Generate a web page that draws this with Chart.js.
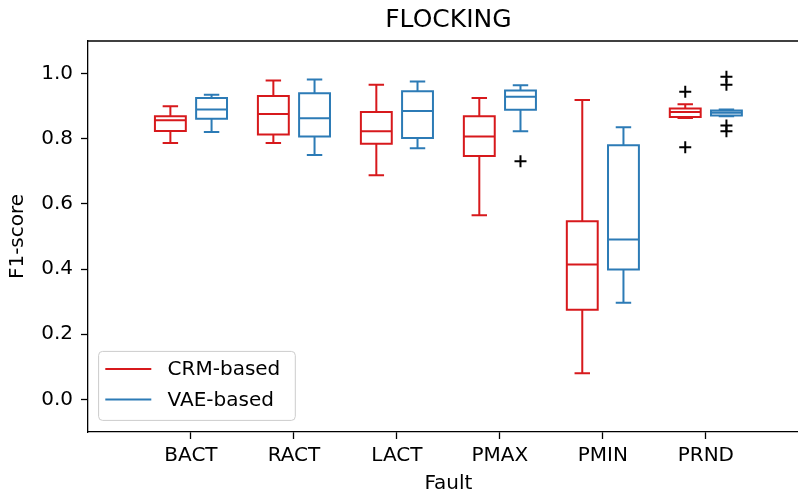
<!DOCTYPE html>
<html>
<head>
<meta charset="utf-8">
<script src="https://cdn.jsdelivr.net/npm/chart.js@4.4.1/dist/chart.umd.min.js"></script>
<style>
  html, body { margin: 0; padding: 0; background: #fff; overflow: hidden; }
  #wrap { width: 798px; height: 498px; }
</style>
</head>
<body>
<div id="wrap"><canvas id="boxChart" width="798" height="498"></canvas></div>
<script>
// 类别（故障类型）
const categories = ['BACT', 'RACT', 'LACT', 'PMAX', 'PMIN', 'PRND'];
const yTicks = [0.0, 0.2, 0.4, 0.6, 0.8, 1.0];

// CRM-based 箱线图数值（下须、Q1、中位数、Q3、上须）
const crmLow  = [0.787, 0.787, 0.688, 0.565, 0.080, 0.864];
const crmQ1   = [0.824, 0.813, 0.785, 0.747, 0.275, 0.867];
const crmMed  = [0.857, 0.876, 0.823, 0.807, 0.414, 0.882];
const crmQ3   = [0.869, 0.931, 0.882, 0.869, 0.547, 0.893];
const crmHigh = [0.900, 0.979, 0.966, 0.925, 0.919, 0.906];
const crmOutliers = [[], [], [], [], [], [0.944, 0.774]];

// VAE-based 箱线图数值
const vaeLow  = [0.821, 0.750, 0.771, 0.823, 0.297, 0.869];
const vaeQ1   = [0.861, 0.807, 0.802, 0.889, 0.399, 0.871];
const vaeMed  = [0.890, 0.863, 0.885, 0.929, 0.491, 0.880];
const vaeQ3   = [0.925, 0.940, 0.946, 0.948, 0.780, 0.887];
const vaeHigh = [0.935, 0.982, 0.976, 0.964, 0.835, 0.890];
const vaeOutliers = [[], [], [], [0.731], [], [0.990, 0.966, 0.841, 0.823]];

const RED = '#d7191c';
const BLUE = '#2c7bb6';
const groupPos = categories.map((c, i) => i * 2);
const OFFSET = 0.4, BOX_W = 0.6, CAP_W = 0.3;
const AXIS_MID = 5; // 原图坐标轴 -2..12 的中点（右侧被裁切）

const series = [
    { label: 'CRM-based', color: RED, dx: -OFFSET, low: crmLow, q1: crmQ1, med: crmMed, q3: crmQ3, high: crmHigh, out: crmOutliers },
    { label: 'VAE-based', color: BLUE, dx: OFFSET, low: vaeLow, q1: vaeQ1, med: vaeMed, q3: vaeQ3, high: vaeHigh, out: vaeOutliers }
];

// 离群点（黑色加号）
const outlierPoints = [];
series.forEach(s => {
    s.out.forEach((vals, i) => vals.forEach(v => outlierPoints.push({ x: groupPos[i] + s.dx, y: v })));
});

// 箱线图绘制插件
const boxPlugin = {
    id: 'boxes',
    beforeDatasetsDraw(chart) {
        const ctx = chart.ctx, xs = chart.scales.x, ys = chart.scales.y;
        ctx.save();
        ctx.lineWidth = 2;
        series.forEach(s => {
            ctx.strokeStyle = s.color;
            categories.forEach((c, i) => {
                const cx = xs.getPixelForValue(groupPos[i] + s.dx);
                const bl = xs.getPixelForValue(groupPos[i] + s.dx - BOX_W / 2);
                const br = xs.getPixelForValue(groupPos[i] + s.dx + BOX_W / 2);
                const cl = xs.getPixelForValue(groupPos[i] + s.dx - CAP_W / 2);
                const cr = xs.getPixelForValue(groupPos[i] + s.dx + CAP_W / 2);
                const yLow = ys.getPixelForValue(s.low[i]);
                const yQ1 = ys.getPixelForValue(s.q1[i]);
                const yMed = ys.getPixelForValue(s.med[i]);
                const yQ3 = ys.getPixelForValue(s.q3[i]);
                const yHigh = ys.getPixelForValue(s.high[i]);
                ctx.beginPath();
                ctx.rect(bl, yQ3, br - bl, yQ1 - yQ3);
                ctx.moveTo(bl, yMed); ctx.lineTo(br, yMed);
                ctx.moveTo(cx, yQ1); ctx.lineTo(cx, yLow);
                ctx.moveTo(cx, yQ3); ctx.lineTo(cx, yHigh);
                ctx.moveTo(cl, yLow); ctx.lineTo(cr, yLow);
                ctx.moveTo(cl, yHigh); ctx.lineTo(cr, yHigh);
                ctx.stroke();
            });
        });
        ctx.restore();
    }
};

// 标题、x轴标题、上边框和图例
const framePlugin = {
    id: 'frame',
    afterDraw(chart) {
        const ctx = chart.ctx, a = chart.chartArea;
        const midX = chart.scales.x.getPixelForValue(AXIS_MID);
        ctx.save();
        ctx.strokeStyle = '#000';
        ctx.lineWidth = 1.3;
        ctx.beginPath();
        ctx.moveTo(a.left, a.top); ctx.lineTo(a.right, a.top);
        ctx.stroke();

        ctx.fillStyle = '#000';
        ctx.textAlign = 'center';
        ctx.textBaseline = 'middle';
        ctx.font = '25px "DejaVu Sans"';
        ctx.fillText('FLOCKING', midX, 20);
        ctx.font = '20px "DejaVu Sans"';
        ctx.fillText('Fault', midX, 484);

        // 图例
        const lx = a.left + 10.6, ly = a.bottom - 80.6, lw = 196.7, lh = 69;
        ctx.beginPath();
        ctx.roundRect(lx, ly, lw, lh, 4);
        ctx.fillStyle = 'rgba(255,255,255,0.8)';
        ctx.fill();
        ctx.strokeStyle = '#cccccc';
        ctx.lineWidth = 1;
        ctx.stroke();
        ctx.textAlign = 'left';
        series.forEach((s, k) => {
            const yy = ly + 17.5 + k * 30.7;
            ctx.strokeStyle = s.color;
            ctx.lineWidth = 2;
            ctx.beginPath();
            ctx.moveTo(lx + 6.7, yy); ctx.lineTo(lx + 52.7, yy);
            ctx.stroke();
            ctx.fillStyle = '#000';
            ctx.fillText(s.label, lx + 69, yy + 1);
        });
        ctx.restore();
    }
};

Chart.defaults.font.family = '"DejaVu Sans"';
Chart.defaults.color = '#000';

const ctx = document.getElementById('boxChart').getContext('2d');
new Chart(ctx, {
    type: 'scatter',
    data: {
        datasets: [{
            label: 'outliers',
            data: outlierPoints,
            pointStyle: 'cross',
            radius: 6,
            borderWidth: 2,
            borderColor: '#000',
            backgroundColor: '#000'
        }]
    },
    options: {
        responsive: false,
        animation: false,
        layout: { autoPadding: false, padding: { top: 41, right: 0, left: 0, bottom: 0 } },
        plugins: { legend: { display: false }, tooltip: { enabled: false }, title: { display: false } },
        scales: {
            x: {
                type: 'linear',
                position: 'bottom',
                min: -2,
                max: 11.79, // 原图右侧在画布边缘被裁掉
                afterBuildTicks: s => { s.ticks = groupPos.map(v => ({ value: v })); },
                afterFit: s => { s.height = 66; },
                ticks: {
                    callback: (v, i) => categories[i],
                    font: { size: 20 },
                    color: '#000',
                    padding: 5,
                    maxRotation: 0,
                    autoSkip: false
                },
                grid: { drawOnChartArea: false, tickLength: 7, tickColor: '#000', tickWidth: 1.3 },
                border: { color: '#000', width: 1.3 },
                title: { display: false }
            },
            y: {
                type: 'linear',
                min: -0.1,
                max: 1.1,
                afterBuildTicks: s => { s.ticks = yTicks.map(v => ({ value: v })); },
                afterFit: s => { s.width = 88; },
                ticks: {
                    callback: v => v.toFixed(1),
                    font: { size: 20 },
                    color: '#000',
                    padding: 8
                },
                grid: { drawOnChartArea: false, tickLength: 7, tickColor: '#000', tickWidth: 1.3 },
                border: { color: '#000', width: 1.3 },
                title: { display: true, text: 'F1-score', font: { size: 20 }, color: '#000', padding: { top: 6, bottom: 0 } }
            }
        }
    },
    plugins: [boxPlugin, framePlugin]
});
</script>
</body>
</html>
